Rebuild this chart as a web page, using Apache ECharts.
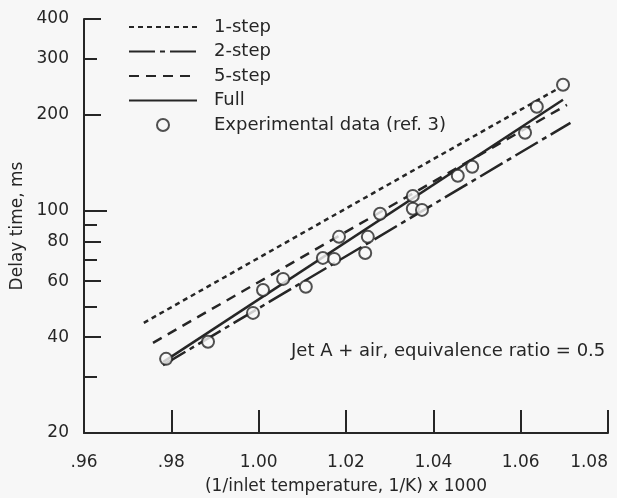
<!DOCTYPE html>
<html><head><meta charset="utf-8">
<script src="https://cdn.jsdelivr.net/npm/echarts@6/dist/echarts.min.js"></script>
<style>html,body{margin:0;padding:0;background:#f7f7f7;}#c{width:617px;height:498px;}</style>
</head><body><div id="c"></div>
<script>
// Model curves (endpoints in data units)
const oneStepX = [0.9737, 1.0681];
const oneStepY = [44.4, 239.7];
const twoStepX = [0.9781, 1.0714];
const twoStepY = [32.7, 188.7];
const fiveStepX = [0.9758, 1.0706];
const fiveStepY = [38.4, 215.0];
const fullX = [0.9781, 1.0697];
const fullY = [33.4, 223.0];
// Experimental data (ref. 3)
const expX = [0.9788, 0.9884, 0.9987, 1.0010, 1.0056, 1.0108, 1.0147, 1.0173, 1.0184, 1.0244,
              1.0250, 1.0278, 1.0353, 1.0353, 1.0374, 1.0456, 1.0489, 1.0610, 1.0637, 1.0697];
const expY = [34.2, 38.7, 47.7, 56.3, 61.0, 57.6, 71.0, 70.5, 82.7, 73.6,
              82.7, 97.7, 111.2, 101.3, 100.5, 128.6, 137.3, 175.6, 212.0, 248.5];
// Axis ticks
const yMajorTicks = [20, 40, 60, 80, 200, 400];
const yLabelTicks = [20, 40, 60, 80, 100, 200, 300, 400];
const yMinorTicks = [30, 50, 70, 90, 300];
const yLongTicks = [100];

const pair = (xs, ys) => xs.map((x, i) => [x, ys[i]]);
const ink = '#262626';
const font = 'DejaVu Sans, Liberation Sans, Arial, sans-serif';

const chart = echarts.init(document.getElementById('c'), null, {renderer: 'canvas'});
const lineSeries = (name, xs, ys, type) => ({
  name, type: 'line', data: pair(xs, ys), symbol: 'none', z: 2,
  lineStyle: {color: ink, width: 2.5, type},
  itemStyle: {color: 'rgba(0,0,0,0)', borderWidth: 0}
});
const tickAxis = (ticks, len) => ({
  type: 'log', logBase: 10, min: 20, max: 400, position: 'left',
  axisLine: {show: false},
  axisTick: {inside: true, length: len, customValues: ticks, lineStyle: {color: ink, width: 2}},
  axisLabel: {show: false},
  splitLine: {show: false}
});
chart.setOption({
  backgroundColor: '#f7f7f7',
  animation: false,
  grid: {left: 84, right: 9, top: 19, bottom: 65, containLabel: false, outerBoundsMode: 'none'},
  legend: {
    orient: 'vertical', left: 123, top: 13,
    itemWidth: 68, itemHeight: 12, itemGap: 6.5,
    textStyle: {fontFamily: font, fontSize: 18, color: ink, padding: [0, 0, 0, 12]},
    data: ['1-step', '2-step', '5-step', 'Full', 'Experimental data (ref. 3)']
  },
  xAxis: {
    type: 'value', min: 0.96, max: 1.08, interval: 0.02,
    name: '(1/inlet temperature, 1/K) x 1000', nameLocation: 'middle', nameGap: 45,
    nameTextStyle: {fontFamily: font, fontSize: 17, color: ink},
    axisLine: {lineStyle: {color: ink, width: 2}},
    axisTick: {inside: true, length: 23, lineStyle: {color: ink, width: 2}},
    axisLabel: {fontFamily: font, fontSize: 17, color: ink, margin: 21, alignMaxLabel: 'right',
      formatter: v => (v < 1 ? v.toFixed(2).replace(/^0/, '') : v.toFixed(2))},
    splitLine: {show: false}
  },
  yAxis: [{
    type: 'log', logBase: 10, min: 20, max: 400,
    name: 'Delay time, ms', nameLocation: 'middle', nameGap: 56,
    nameTextStyle: {fontFamily: font, fontSize: 17, color: ink},
    axisLine: {lineStyle: {color: ink, width: 2}},
    axisTick: {inside: true, length: 17, customValues: yMajorTicks, lineStyle: {color: ink, width: 2}},
    axisLabel: {fontFamily: font, fontSize: 17, color: ink, margin: 15, customValues: yLabelTicks},
    splitLine: {show: false}
  }, tickAxis(yMinorTicks, 13), tickAxis(yLongTicks, 23)],
  graphic: [{
    type: 'text', left: 291, top: 342,
    style: {text: 'Jet A + air, equivalence ratio = 0.5', fontFamily: font, fontSize: 18, fill: ink}
  }],
  series: [
    lineSeries('1-step', oneStepX, oneStepY, [5, 4]),
    lineSeries('2-step', twoStepX, twoStepY, [26, 5, 5, 5]),
    lineSeries('5-step', fiveStepX, fiveStepY, [10, 7]),
    lineSeries('Full', fullX, fullY, 'solid'),
    {
      name: 'Experimental data (ref. 3)', type: 'scatter', data: pair(expX, expY),
      symbol: 'circle', symbolSize: 12, z: 5,
      itemStyle: {color: '#f7f7f7', borderColor: ink, borderWidth: 2}
    }
  ]
});
</script></body></html>
